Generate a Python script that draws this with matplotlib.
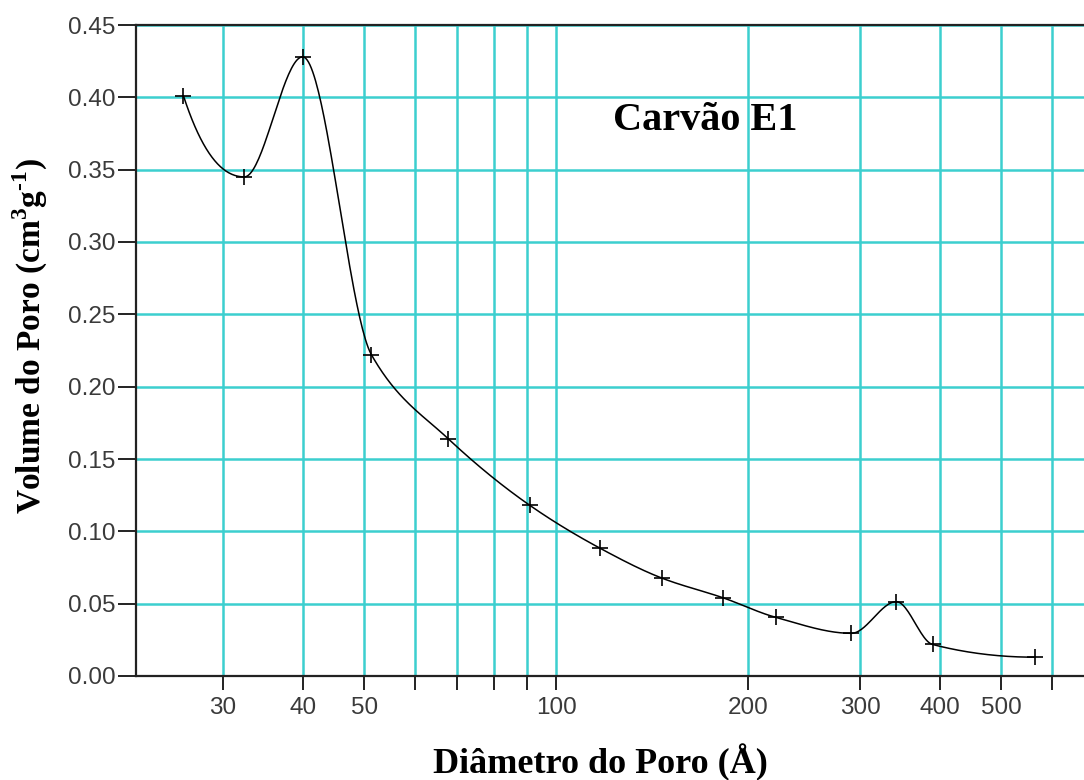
import numpy as np
import matplotlib
matplotlib.use("Agg")
import matplotlib.pyplot as plt
from matplotlib.ticker import FixedLocator, NullFormatter, FixedFormatter

# pore size distribution, coal sample E1
diametro = [26.0, 32.4, 40.0, 51.3, 67.7, 90.9, 117.0, 146.5, 183.0,
            221.0, 290.8, 342.0, 389.8, 564.0]
volume = [0.401, 0.345, 0.428, 0.222, 0.164, 0.118, 0.0885, 0.0677, 0.0540,
          0.0406, 0.0295, 0.0514, 0.0218, 0.0130]

xticks_major = [30, 40, 50, 100, 200, 300, 400, 500]
xticks_minor = [60, 70, 80, 90, 600]
yticks = [0.00, 0.05, 0.10, 0.15, 0.20, 0.25, 0.30, 0.35, 0.40, 0.45]

GRID = "#3ccfcf"


def end_slope(h0, h1, d0, d1):
    """three point end derivative, same rules as scipy's pchip"""
    m = ((2 * h0 + h1) * d0 - h0 * d1) / (h0 + h1)
    if np.sign(m) != np.sign(d0):
        return 0.0
    if np.sign(d0) != np.sign(d1) and abs(m) > 3 * abs(d0):
        return 3 * d0
    return m


def pchip(x, y, xs):
    """shape preserving cubic through the points (no overshoot)"""
    x = np.asarray(x, float)
    y = np.asarray(y, float)
    h = np.diff(x)
    d = np.diff(y) / h
    n = len(x)
    m = np.zeros(n)
    m[0] = end_slope(h[0], h[1], d[0], d[1])
    m[-1] = end_slope(h[-1], h[-2], d[-1], d[-2])
    for k in range(1, n - 1):
        if d[k - 1] * d[k] <= 0:
            m[k] = 0.0
        else:
            w1 = 2 * h[k] + h[k - 1]
            w2 = h[k] + 2 * h[k - 1]
            m[k] = (w1 + w2) / (w1 / d[k - 1] + w2 / d[k])
    idx = np.clip(np.searchsorted(x, xs) - 1, 0, n - 2)
    t = (xs - x[idx]) / h[idx]
    h00 = 2 * t**3 - 3 * t**2 + 1
    h10 = t**3 - 2 * t**2 + t
    h01 = -2 * t**3 + 3 * t**2
    h11 = t**3 - t**2
    return (h00 * y[idx] + h10 * h[idx] * m[idx]
            + h01 * y[idx + 1] + h11 * h[idx] * m[idx + 1])


fig = plt.figure(figsize=(10.84, 7.8), dpi=100)
ax = fig.add_axes([136 / 1084, 1 - 676 / 780, 1 - 136 / 1084, 651 / 780])

# smooth curve in log-diameter space
lx = np.log10(diametro)
xs = np.linspace(lx[0], lx[-1], 600)
ax.plot(10**xs, pchip(lx, volume, xs), color="black", lw=1.1, zorder=3)
ax.plot(diametro, volume, ls="none", marker="+", ms=11, mew=1.2,
        color="black", zorder=4)

ax.set_xscale("log")
ax.set_xlim(21.9, 674)
ax.set_ylim(0, 0.45)

ax.xaxis.set_major_locator(FixedLocator(xticks_major))
ax.xaxis.set_major_formatter(FixedFormatter([str(v) for v in xticks_major]))
ax.xaxis.set_minor_locator(FixedLocator(xticks_minor))
ax.xaxis.set_minor_formatter(NullFormatter())
ax.set_yticks(yticks)
ax.set_yticklabels(["%.2f" % v for v in yticks])

ax.grid(True, which="both", color=GRID, lw=1.8, zorder=1)
ax.set_axisbelow(True)

ax.spines["right"].set_visible(False)
for s in ["left", "bottom", "top"]:
    ax.spines[s].set_color("#222222")
    ax.spines[s].set_linewidth(1.6)

ax.tick_params(axis="y", which="both", length=13, width=1.4, color="#222222",
               pad=2, labelsize=17.5, labelcolor="#3a3a3a")
ax.tick_params(axis="x", which="both", length=10, width=1.4, color="#222222",
               pad=5, labelsize=17.5, labelcolor="#3a3a3a")
for lab in ax.get_xticklabels() + ax.get_yticklabels():
    lab.set_family("Liberation Sans")

plt.rcParams["mathtext.fontset"] = "custom"
plt.rcParams["mathtext.bf"] = "Liberation Serif:bold"
plt.rcParams["mathtext.rm"] = "Liberation Serif:bold"

fig.text(600 / 1084, 1 - 773 / 780, "Diâmetro do Poro (Å)",
         family="Liberation Serif", weight="bold", size=26,
         ha="center", va="baseline")
fig.text(30 / 1084, 1 - 336 / 780,
         r"Volume do Poro (cm$^{\mathbf{3}}$g$^{\mathbf{\text{-}1}}$)",
         family="Liberation Serif", weight="bold", size=24,
         rotation=90, ha="center", va="center")
ax.text(0.503, (676 - 130) / 651, "Carvão E1", transform=ax.transAxes,
        family="Liberation Serif", weight="bold", size=29,
        ha="left", va="baseline")

fig.savefig("out.png", dpi=100, facecolor="white")
